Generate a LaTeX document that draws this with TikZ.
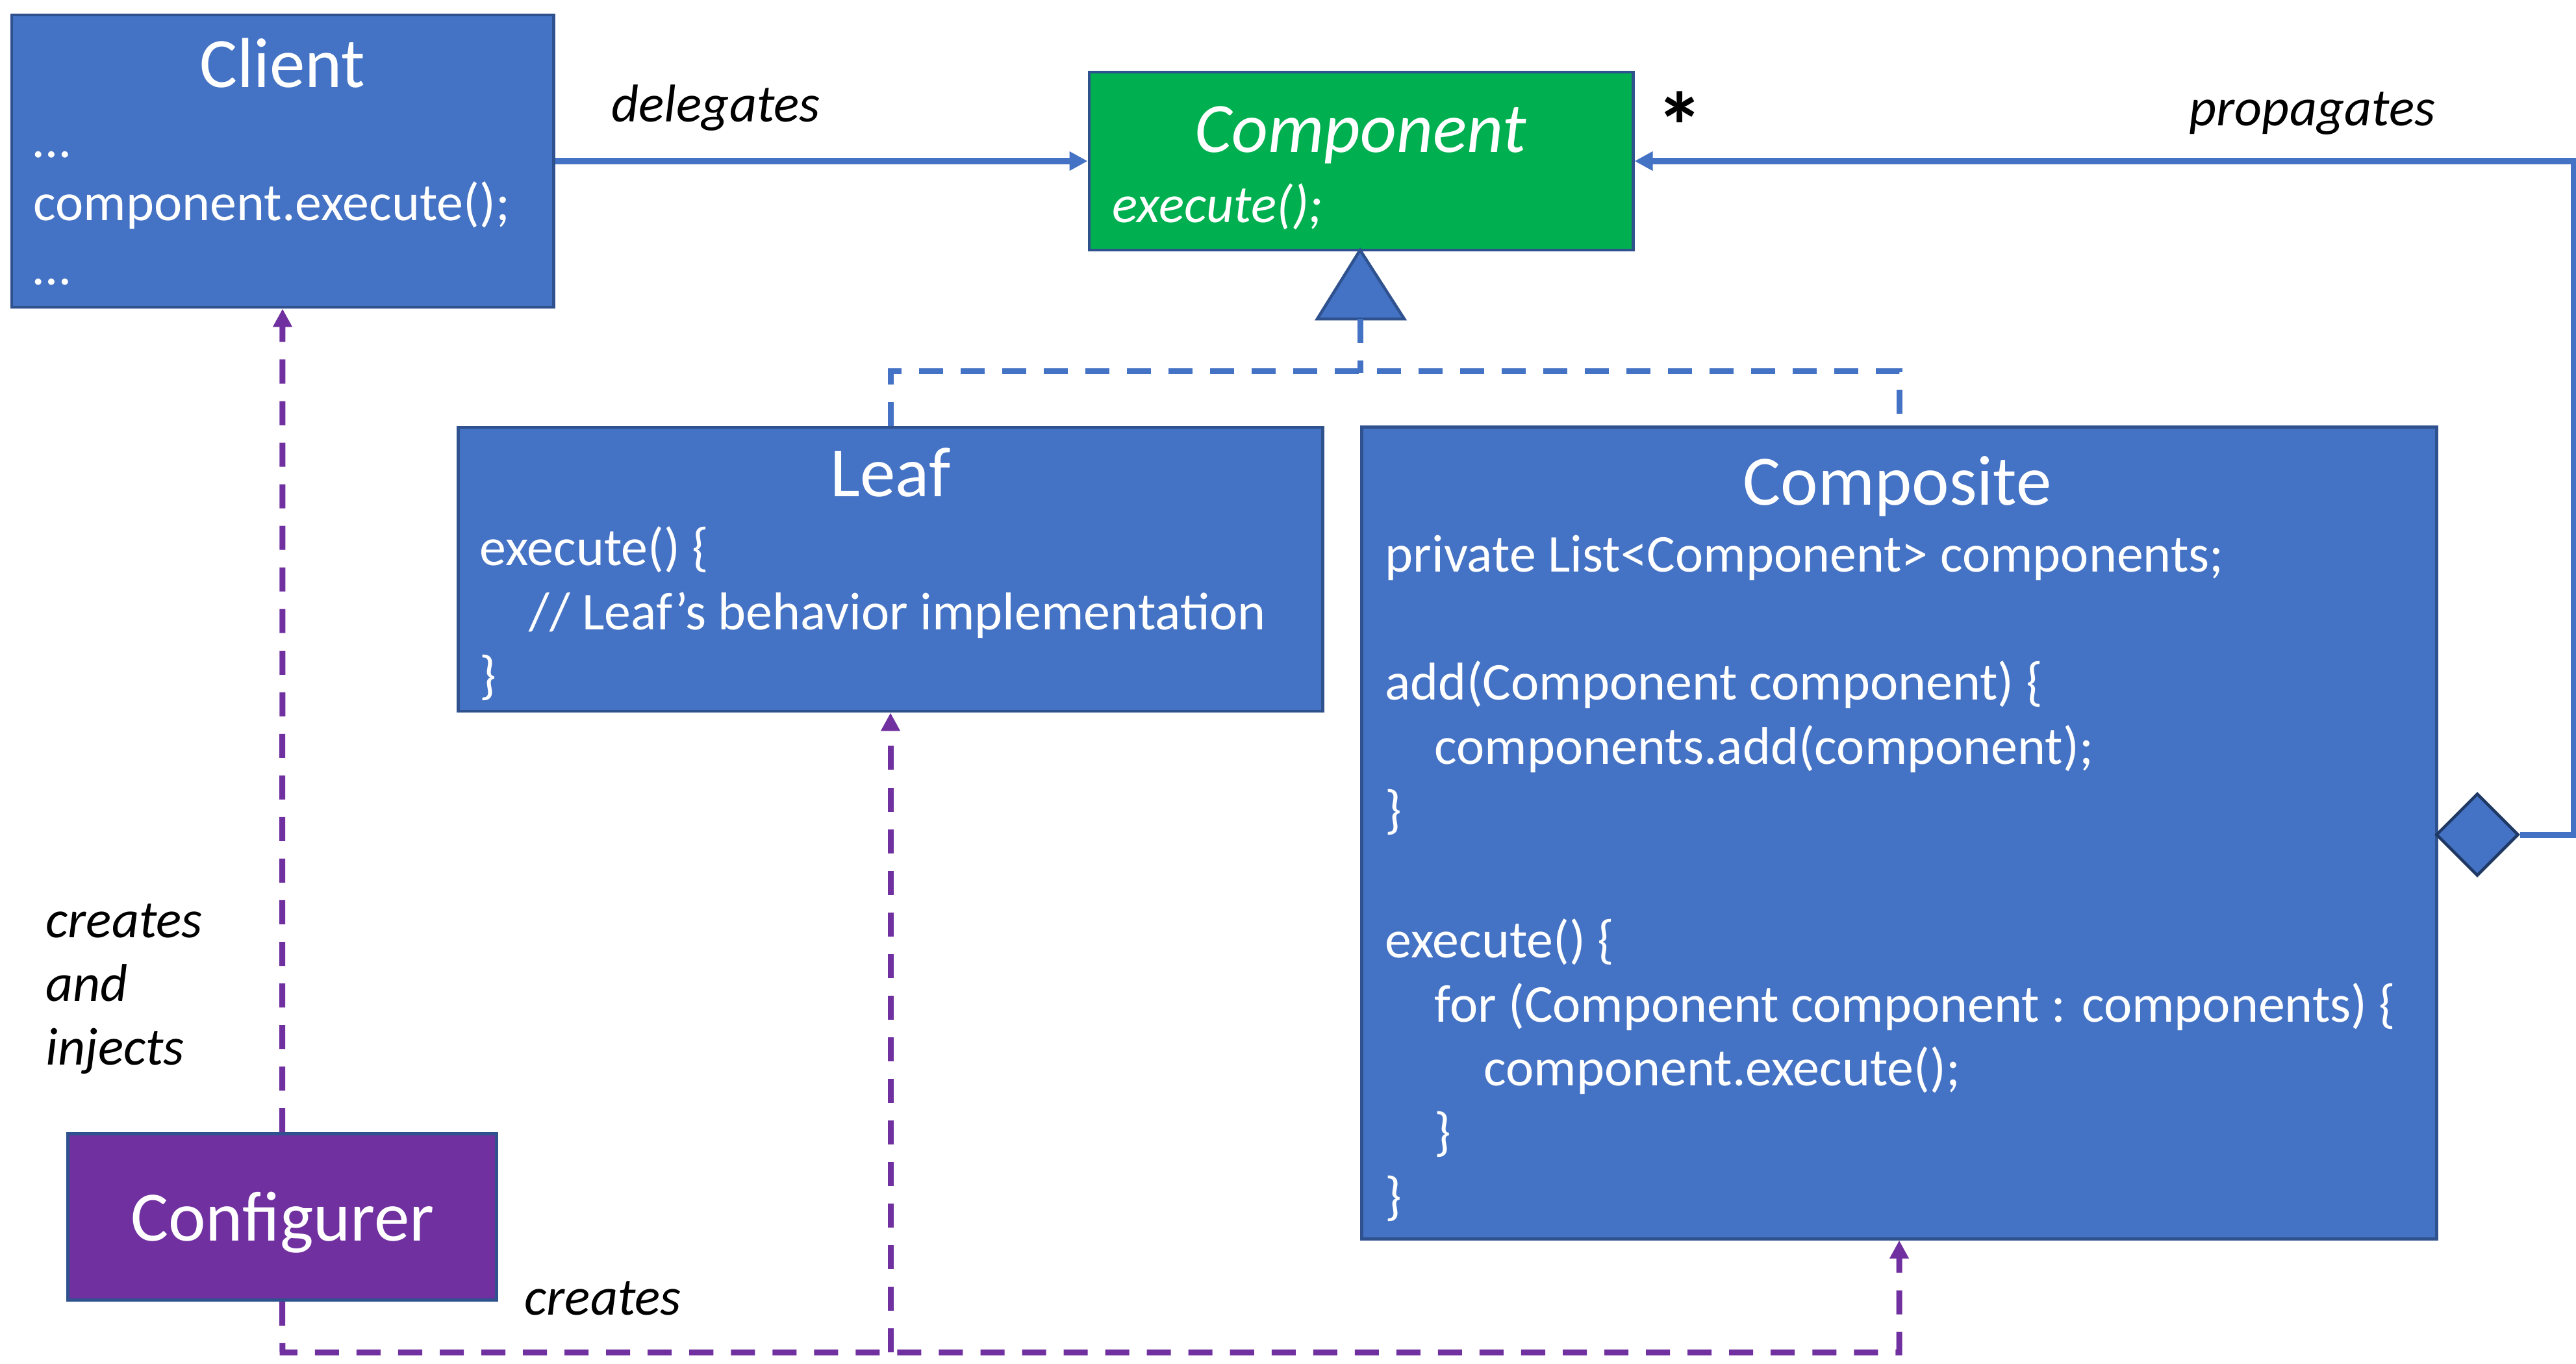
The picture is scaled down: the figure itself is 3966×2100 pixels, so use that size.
\documentclass[tikz,border=0pt]{standalone}
\usepackage{fontspec}
\setmainfont{Carlito}
\usetikzlibrary{arrows.meta,shapes.geometric}
\definecolor{boxblue}{HTML}{4472C4}
\definecolor{boxedge}{HTML}{2F528F}
\definecolor{compgreen}{HTML}{00B050}
\definecolor{confpurple}{HTML}{7030A0}
\definecolor{navyedge}{HTML}{203864}
\begin{document}
\begin{tikzpicture}[x=0.01cm,y=-0.01cm,
  box/.style={draw=boxedge, line width=0.045cm, rectangle, inner sep=0pt},
  title/.style={font=\fontsize{31pt}{37pt}\selectfont, text=white, anchor=base, inner sep=0pt},
  ititle/.style={font=\fontsize{31pt}{37pt}\selectfont\itshape, text=white, anchor=base, inner sep=0pt},
  body/.style={font=\fontsize{23.3pt}{28pt}\selectfont, text=white, anchor=base west, inner sep=0pt},
  ibody/.style={font=\fontsize{23.3pt}{28pt}\selectfont\itshape, text=white, anchor=base west, inner sep=0pt},
  lbl/.style={font=\fontsize{23.3pt}{28pt}\selectfont\itshape, text=black, anchor=base west, inner sep=0pt},
  assoc/.style={draw=boxblue, line width=0.09cm},
  realiz/.style={draw=boxblue, line width=0.09cm, dash pattern=on 0.37cm off 0.27cm},
  dep/.style={draw=confpurple, line width=0.09cm, dash pattern=on 0.37cm off 0.27cm},
  tip/.style={-{Triangle[length=0.28cm,width=0.28cm]}}
]
\useasboundingbox (0,0) rectangle (3966,2100);
% boxes
\node[box, fill=boxblue, minimum width=8.34cm, minimum height=4.50cm] (client) at (435,248) {};
\node[box, fill=compgreen, minimum width=8.37cm, minimum height=2.74cm] (component) at (2095.5,248) {};
\node[box, fill=boxblue, minimum width=13.30cm, minimum height=4.37cm] (leaf) at (1371,876.5) {};
\node[box, fill=boxblue, minimum width=16.54cm, minimum height=12.49cm] (composite) at (2924,1282.5) {};
\node[box, fill=confpurple, minimum width=6.60cm, minimum height=2.56cm] (conf) at (434.5,1873.5) {};
% generalization triangle
\draw[fill=boxblue, draw=boxedge, line width=0.045cm] (2094,385) -- (2162,491) -- (2028,491) -- cycle;
\coordinate (tribase) at (2094,491);
\coordinate (junc) at (2094,574);
% diamond
\node[diamond, aspect=1, inner sep=0pt, minimum size=1.27cm, fill=boxblue, draw=navyedge, line width=0.045cm] (dia) at (3814,1285) {};
% connectors
\draw[assoc, tip] (client.east) -- (component.west);
\draw[assoc, tip] (dia.east) -- ++(83,0) |- (component.east);
\draw[realiz] (leaf.north) -- ++(0,-84) -| (composite.north);
\draw[realiz] (tribase) -- (junc);
\coordinate (bot) at (435,2082);
\draw[dep, tip] (conf.north) -- (client.south);
\draw[dep, tip] (conf.south) -- (bot) -| (composite.south);
\draw[dep, tip] (bot -| leaf.south) -- (leaf.south);
% client text
\node[title] (tclient) at (435,135) {Client};
\node[body] (c1) at (51,242) {…};
\node[body] (c2) at (51,340) {component.execute();};
\node[body] (c3) at (51,438) {…};
% component text
\node[ititle] (tcomp) at (2095,235) {Component};
\node[ibody] (m1) at (1712,342) {execute();};
% leaf text
\node[title] (tleaf) at (1371,764) {Leaf};
\node[body] (l1) at (738,870) {execute() \{};
\node[body] (l2) at (814,969) {// Leaf’s behavior implementation};
\node[body] (l3) at (738,1067) {\}};
% composite text
\node[title] (tcompo) at (2921,777) {Composite};
\node[body] (k1) at (2132,880) {private List<Component> components;};
\node[body] (k2) at (2132,1077) {add(Component component) \{};
\node[body] (k3) at (2208,1176) {components.add(component);};
\node[body] (k4) at (2132,1274) {\}};
\node[body] (k5) at (2132,1474) {execute() \{};
\node[body] (k6) at (2208,1573) {for (Component component : components) \{};
\node[body] (k7) at (2284,1671) {component.execute();};
\node[body] (k8) at (2208,1770) {\}};
\node[body] (k9) at (2132,1869) {\}};
% configurer
\node[title] (tconf) at (435,1910) {Configurer};
% labels
\node[lbl] (ldel) at (941,188) {delegates};
\node[lbl] (lprop) at (3370,194) {propagates};
\node[font=\fontsize{42pt}{46pt}\selectfont\bfseries, inner sep=0pt, anchor=center] (lstar) at (2586,194) {*};
\node[lbl] (lci1) at (70,1443) {creates};
\node[lbl] (lci2) at (70,1541) {and};
\node[lbl] (lci3) at (70,1639) {injects};
\node[lbl] (lcr) at (807,2024) {creates};
\end{tikzpicture}
\end{document}
